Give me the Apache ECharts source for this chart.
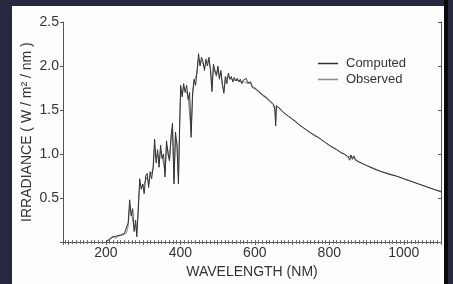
<!DOCTYPE html>
<html>
<head>
<meta charset="utf-8">
<script src="https://cdn.jsdelivr.net/npm/echarts@6/dist/echarts.min.js"></script>
<style>
html,body{margin:0;padding:0;background:#262840;width:453px;height:284px;overflow:hidden;}
#page{position:absolute;left:12px;top:6px;width:432px;height:278px;background:#fdfdfd;}
#strip{position:absolute;left:444px;top:0;width:4px;height:284px;background:#0a0a0c;}
#chart{position:absolute;left:0;top:0;width:453px;height:284px;}
</style>
</head>
<body>
<div id="page"></div>
<div id="strip"></div>
<div id="chart"></div>
<script>
// ---- data ----
var wavelength = [200,205,210,215,220,225,230,235,240,245,250,255,260,264,268,272,276,280,283,287,291,295,299,303,307,311,315,319,323,327,331,335,339,343,347,351,355,359,363,367,371,375,379,383,387,391,395,398,401,405,409,413,417,421,425,429,433,437,441,445,449,453,457,461,465,469,473,477,481,485,489,493,497,501,505,509,513,517,521,525,529,533,537,541,545,549,553,557,561,565,569,573,577,581,585,589,593,597,601,605,610,615,620,625,630,635,640,645,650,654,656,658,662,668,675,680,690,700,710,720,730,740,750,760,770,780,790,800,810,820,830,840,850,855,858,862,866,870,880,890,900,920,940,960,980,1000,1020,1040,1060,1080,1100];
var computed = [0.00,0.02,0.03,0.05,0.06,0.05,0.07,0.05,0.08,0.06,0.10,0.08,0.22,0.48,0.30,0.38,0.12,0.25,0.06,0.35,0.72,0.60,0.66,0.55,0.75,0.78,0.62,0.80,0.72,0.85,1.17,0.90,1.05,0.85,1.10,0.95,1.00,0.74,1.15,1.00,0.92,1.20,1.35,0.66,1.25,1.10,0.66,1.30,1.78,1.65,1.80,1.70,1.78,1.62,1.70,1.19,1.70,1.85,1.78,1.95,2.14,2.00,2.10,2.05,1.95,2.08,2.00,2.10,1.95,1.71,2.02,1.95,1.90,2.00,1.85,1.95,1.78,1.69,1.88,1.80,1.92,1.85,1.88,1.82,1.87,1.83,1.86,1.82,1.85,1.80,1.84,1.83,1.86,1.81,1.79,1.82,1.76,1.78,1.74,1.76,1.71,1.72,1.67,1.68,1.64,1.63,1.60,1.59,1.56,1.50,1.32,1.55,1.55,1.51,1.48,1.46,1.43,1.40,1.37,1.33,1.30,1.27,1.24,1.21,1.19,1.16,1.13,1.10,1.07,1.05,1.02,1.00,0.97,0.93,0.99,0.94,0.98,0.93,0.91,0.89,0.87,0.83,0.80,0.77,0.75,0.72,0.69,0.66,0.63,0.60,0.57];
var observed = [0.00,0.01,0.04,0.04,0.07,0.04,0.06,0.07,0.06,0.08,0.09,0.10,0.18,0.42,0.34,0.33,0.16,0.20,0.10,0.40,0.66,0.64,0.62,0.60,0.70,0.74,0.66,0.76,0.75,0.82,1.10,0.95,1.00,0.90,1.05,0.98,0.96,0.80,1.10,1.04,0.95,1.15,1.28,0.72,1.20,1.12,0.72,1.25,1.72,1.68,1.76,1.73,1.74,1.66,1.68,1.25,1.66,1.82,1.80,1.92,2.08,2.03,2.06,2.02,1.98,2.04,2.02,2.06,1.97,1.76,1.98,1.97,1.88,1.97,1.88,1.92,1.80,1.72,1.85,1.83,1.89,1.86,1.86,1.84,1.85,1.84,1.84,1.83,1.84,1.82,1.83,1.82,1.84,1.80,1.80,1.80,1.77,1.77,1.75,1.75,1.72,1.71,1.68,1.67,1.65,1.63,1.61,1.59,1.57,1.52,1.36,1.54,1.54,1.52,1.48,1.46,1.43,1.40,1.36,1.33,1.30,1.27,1.24,1.22,1.19,1.16,1.13,1.10,1.08,1.05,1.02,1.00,0.97,0.95,0.97,0.95,0.96,0.94,0.91,0.89,0.87,0.84,0.80,0.78,0.75,0.72,0.69,0.66,0.63,0.60,0.58];
var xTickLabels = [200,400,600,800,1000];
var yTickLabels = [0.5,1.0,1.5,2.0,2.5];
var seriesNames = ['Computed','Observed'];

// ---- chart ----
var minorX = [];
for (var v = 90; v <= 1100; v += 10) minorX.push(v);
function pairs(xs, ys){ return xs.map(function(x,i){return [x, ys[i]];}); }

var FONT = 'Liberation Sans';
var chart = echarts.init(document.getElementById('chart'), null, {renderer:'canvas'});
var axisLine = {show:true, lineStyle:{color:'#555', width:1}};
chart.setOption({
  backgroundColor:'transparent',
  animation:false,
  grid:{left:63, right:12, top:22, bottom:31},
  legend:{
    orient:'vertical', left:313, top:52, itemWidth:20, itemHeight:1.5, itemGap:3,
    icon:'rect',
    textStyle:{fontFamily:FONT, fontSize:13, color:'#333', padding:[0,0,0,3]},
    data:seriesNames
  },
  xAxis:[{
    type:'value', min:85, max:1100, position:'bottom',
    axisLine:axisLine,
    splitLine:{show:false},
    axisTick:{show:true, inside:true, length:2, customValues:minorX, lineStyle:{color:'#666'}},
    axisLabel:{customValues:xTickLabels, fontFamily:FONT, fontSize:14, color:'#333', margin:4,
      formatter:function(v){return String(v);}},
    name:'WAVELENGTH (NM)', nameLocation:'middle', nameGap:17,
    nameTextStyle:{fontFamily:FONT, fontSize:14, color:'#333'}
  },{
    type:'value', min:85, max:1100, position:'top', splitNumber:10,
    axisLine:axisLine, splitLine:{show:false},
    axisTick:{show:true, inside:true, length:3, lineStyle:{color:'#666'}},
    minorTick:{show:true, splitNumber:10, length:2, lineStyle:{color:'#777'}},
    axisLabel:{show:false}
  }],
  yAxis:[{
    type:'value', min:0, max:2.5, interval:0.5, position:'left',
    axisLine:axisLine, splitLine:{show:false},
    axisTick:{show:true, length:3, lineStyle:{color:'#555'}},
    axisLabel:{customValues:yTickLabels, fontFamily:FONT, fontSize:14, color:'#333', margin:4,
      formatter:function(v){return v.toFixed(1);}},
    name:'IRRADIANCE ( W / m² / nm )', nameLocation:'middle', nameGap:29, nameRotate:90,
    nameMoveOverlap:false,
    nameTextStyle:{fontFamily:FONT, fontSize:14, color:'#333'}
  },{
    type:'value', min:0, max:2.5, interval:0.5, position:'right',
    axisLine:axisLine, splitLine:{show:false},
    axisTick:{show:true, inside:true, length:3, customValues:yTickLabels, lineStyle:{color:'#555'}},
    axisLabel:{show:false}
  }],
  series:[{
    name:seriesNames[1], type:'line', data:pairs(wavelength, observed),
    symbol:'none', lineStyle:{color:'#8a8a8a', width:1}, itemStyle:{color:'#8a8a8a'}, z:2
  },{
    name:seriesNames[0], type:'line', data:pairs(wavelength, computed),
    symbol:'none', lineStyle:{color:'#333', width:1}, itemStyle:{color:'#333'}, z:3
  }]
});
</script>
</body>
</html>
